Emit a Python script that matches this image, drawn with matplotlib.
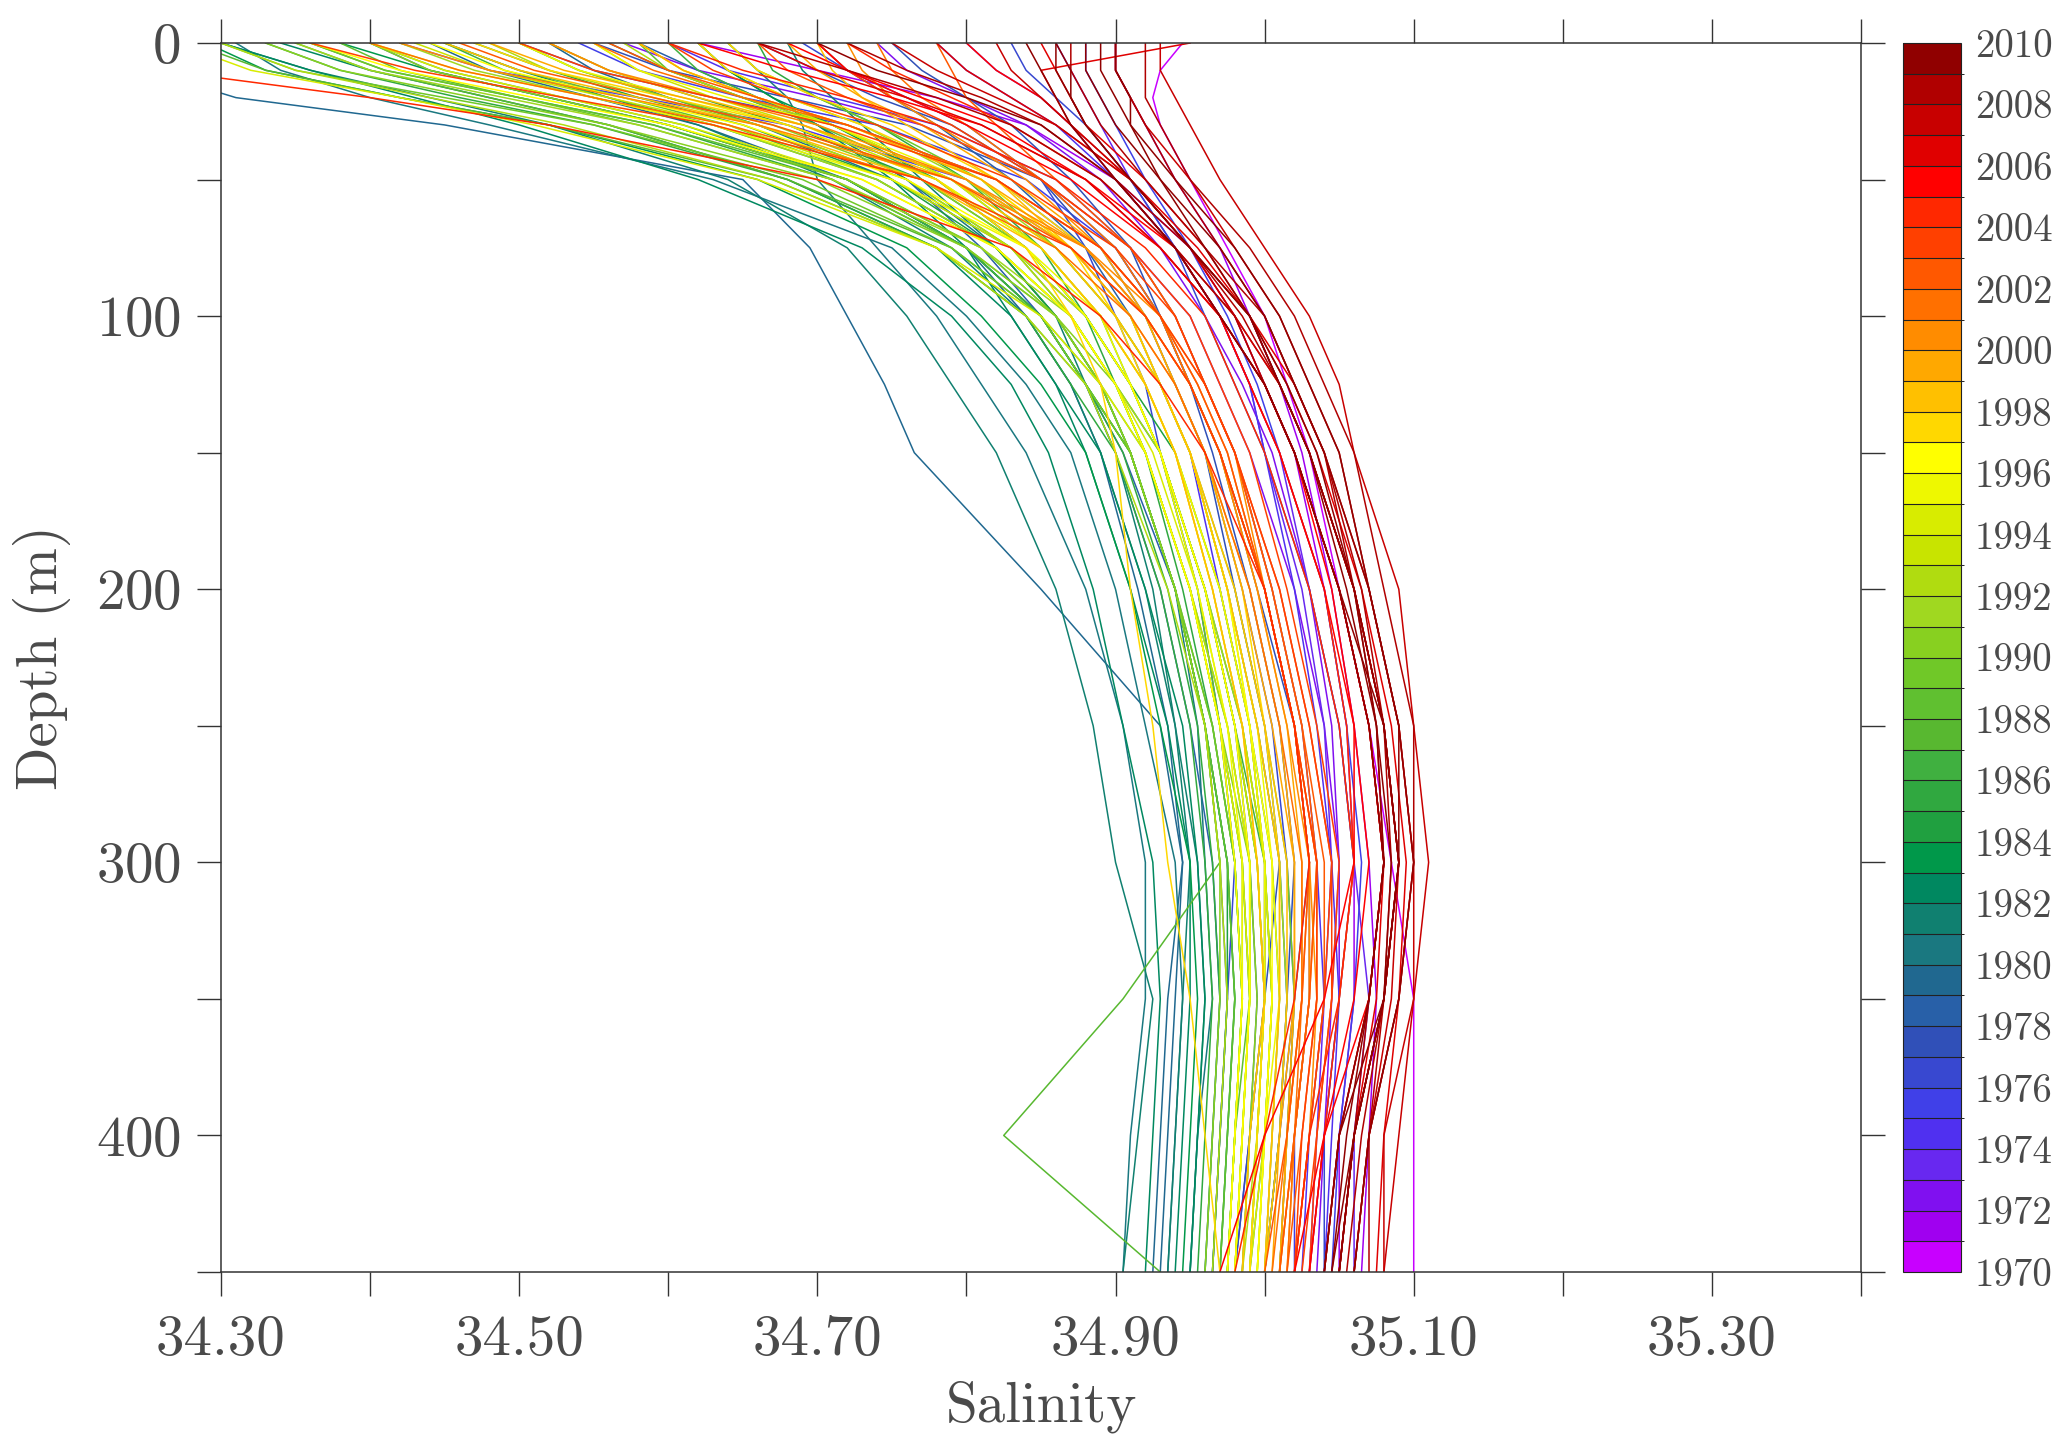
import matplotlib
matplotlib.use("Agg")
import matplotlib.pyplot as plt
import numpy as np
from matplotlib.colors import ListedColormap, BoundaryNorm
from matplotlib.cm import ScalarMappable
from matplotlib.ticker import MultipleLocator, FixedLocator

plt.rcParams['font.family'] = ['cmr10', 'DejaVu Sans']
plt.rcParams['axes.formatter.use_mathtext'] = True

# ---------------- data ----------------
depths = [0, 10, 20, 30, 50, 75, 100, 125, 150, 200, 250, 300, 350, 400, 450]

years = [
    1970, 1971, 1972, 1973, 1974, 1975, 1976, 1977, 1977,
    1978, 1978, 1979, 1979, 1980, 1980, 1981, 1981, 1982, 1982, 1983, 1983,
    1984, 1985, 1985, 1986, 1986, 1987, 1987, 1988, 1988, 1989, 1990, 1990,
    1991, 1991, 1992, 1992, 1993, 1994, 1994,
    1995, 1995, 1996, 1996, 1997, 1997, 1998, 1998,
    1999, 1999, 2000, 2000, 2001, 2001, 2002, 2002, 2003, 2003, 2003,
    2004, 2004, 2005, 2005, 2005, 2005, 2006, 2006, 2007, 2007, 2007,
    2008, 2008, 2008, 2009, 2009, 2009, 2010, 2010,
]

salinity = [
    [34.945, 34.93, 34.925, 34.93, 34.95, 34.975, 35.00, 35.015, 35.03, 35.05, 35.07, 35.085, 35.10, 35.10, 35.10],
    [34.62, 34.70, 34.78, 34.84, 34.90, 34.95, 34.98, 35.00, 35.02, 35.04, 35.055, 35.06, 35.06, 35.05, 35.05],
    [34.57, 34.62, 34.70, 34.77, 34.85, 34.91, 34.95, 34.97, 34.99, 35.02, 35.04, 35.05, 35.05, 35.04, 35.03],
    [34.80, 34.82, 34.85, 34.87, 34.90, 34.94, 34.97, 34.99, 35.01, 35.03, 35.05, 35.06, 35.07, 35.06, 35.06],
    [34.42, 34.48, 34.58, 34.68, 34.80, 34.87, 34.91, 34.93, 34.95, 34.97, 34.99, 35.00, 35.00, 34.99, 34.98],
    [34.54, 34.58, 34.65, 34.74, 34.84, 34.90, 34.93, 34.95, 34.97, 35.00, 35.02, 35.03, 35.03, 35.02, 35.02],
    [34.83, 34.84, 34.86, 34.88, 34.91, 34.94, 34.96, 34.98, 35.00, 35.03, 35.05, 35.06, 35.05, 35.04, 35.04],
    [34.66, 34.70, 34.74, 34.79, 34.85, 34.89, 34.92, 34.94, 34.96, 34.98, 35.00, 35.01, 35.00, 34.99, 34.98],
    [34.75, 34.77, 34.80, 34.83, 34.87, 34.91, 34.93, 34.95, 34.97, 34.995, 35.02, 35.03, 35.02, 35.01, 35.00],
    [34.58, 34.62, 34.66, 34.70, 34.76, 34.81, 34.85, 34.88, 34.90, 34.93, 34.95, 34.965, 34.97, 34.965, 34.96],
    [34.70, 34.72, 34.75, 34.78, 34.83, 34.88, 34.91, 34.93, 34.95, 34.975, 34.995, 35.01, 35.015, 35.01, 35.00],
    [34.20, 34.25, 34.31, 34.45, 34.65, 34.695, 34.72, 34.745, 34.765, 34.85, 34.93, 34.945, 34.935, 34.93, 34.925],
    [34.52, 34.55, 34.60, 34.66, 34.75, 34.83, 34.88, 34.91, 34.93, 34.96, 34.98, 34.99, 34.995, 34.99, 34.985],
    [34.31, 34.34, 34.40, 34.48, 34.63, 34.75, 34.80, 34.84, 34.87, 34.90, 34.92, 34.94, 34.945, 34.94, 34.935],
    [34.64, 34.66, 34.68, 34.69, 34.70, 34.74, 34.78, 34.81, 34.84, 34.88, 34.905, 34.92, 34.92, 34.91, 34.905],
    [34.30, 34.36, 34.44, 34.52, 34.64, 34.72, 34.76, 34.79, 34.82, 34.86, 34.885, 34.90, 34.925, 34.915, 34.905],
    [34.45, 34.50, 34.56, 34.62, 34.71, 34.79, 34.84, 34.87, 34.89, 34.92, 34.94, 34.955, 34.96, 34.955, 34.95],
    [34.30, 34.36, 34.43, 34.50, 34.62, 34.73, 34.79, 34.83, 34.855, 34.885, 34.905, 34.925, 34.93, 34.925, 34.92],
    [34.62, 34.64, 34.67, 34.70, 34.75, 34.80, 34.83, 34.86, 34.88, 34.91, 34.935, 34.95, 34.95, 34.945, 34.94],
    [34.29, 34.33, 34.42, 34.52, 34.66, 34.76, 34.81, 34.85, 34.88, 34.91, 34.93, 34.95, 34.955, 34.95, 34.945],
    [34.38, 34.44, 34.52, 34.60, 34.72, 34.80, 34.85, 34.88, 34.91, 34.94, 34.96, 34.975, 34.98, 34.975, 34.97],
    [34.47, 34.52, 34.58, 34.65, 34.75, 34.82, 34.86, 34.89, 34.91, 34.94, 34.96, 34.975, 34.975, 34.97, 34.965],
    [34.33, 34.38, 34.46, 34.55, 34.68, 34.78, 34.84, 34.87, 34.90, 34.93, 34.95, 34.96, 34.965, 34.96, 34.955],
    [34.66, 34.67, 34.70, 34.74, 34.80, 34.85, 34.88, 34.90, 34.92, 34.945, 34.965, 34.98, 34.985, 34.98, 34.975],
    [34.40, 34.45, 34.53, 34.61, 34.72, 34.80, 34.85, 34.88, 34.91, 34.94, 34.96, 34.975, 34.98, 34.975, 34.97],
    [34.60, 34.62, 34.66, 34.71, 34.79, 34.85, 34.89, 34.91, 34.93, 34.96, 34.98, 35.00, 35.005, 35.00, 34.995],
    [34.35, 34.40, 34.48, 34.56, 34.68, 34.79, 34.85, 34.89, 34.91, 34.94, 34.96, 34.97, 34.905, 34.825, 34.93],
    [34.28, 34.33, 34.42, 34.52, 34.67, 34.78, 34.84, 34.88, 34.91, 34.94, 34.965, 34.98, 34.985, 34.98, 34.975],
    [34.45, 34.50, 34.57, 34.64, 34.74, 34.82, 34.87, 34.90, 34.92, 34.95, 34.97, 34.985, 34.99, 34.98, 34.975],
    [34.38, 34.42, 34.50, 34.59, 34.72, 34.81, 34.86, 34.89, 34.91, 34.94, 34.96, 34.975, 34.98, 34.975, 34.97],
    [34.36, 34.41, 34.50, 34.58, 34.71, 34.80, 34.86, 34.89, 34.92, 34.95, 34.975, 34.99, 34.99, 34.985, 34.98],
    [34.50, 34.54, 34.60, 34.67, 34.77, 34.84, 34.88, 34.91, 34.93, 34.96, 34.98, 34.995, 35.00, 34.995, 34.99],
    [34.33, 34.38, 34.47, 34.56, 34.70, 34.80, 34.86, 34.90, 34.92, 34.95, 34.97, 34.99, 34.995, 34.99, 34.985],
    [34.42, 34.47, 34.55, 34.63, 34.74, 34.82, 34.87, 34.90, 34.92, 34.95, 34.97, 34.985, 34.985, 34.98, 34.975],
    [34.62, 34.64, 34.68, 34.73, 34.80, 34.86, 34.90, 34.93, 34.95, 34.975, 34.995, 35.01, 35.015, 35.01, 35.00],
    [34.30, 34.35, 34.44, 34.53, 34.67, 34.78, 34.84, 34.88, 34.90, 34.935, 34.96, 34.97, 34.975, 34.97, 34.965],
    [34.48, 34.52, 34.59, 34.66, 34.76, 34.83, 34.87, 34.90, 34.92, 34.95, 34.975, 34.99, 34.99, 34.985, 34.98],
    [34.55, 34.58, 34.63, 34.69, 34.78, 34.85, 34.89, 34.92, 34.94, 34.965, 34.985, 35.00, 35.005, 35.00, 34.995],
    [34.27, 34.32, 34.42, 34.51, 34.66, 34.78, 34.85, 34.89, 34.92, 34.95, 34.97, 34.985, 34.99, 34.985, 34.98],
    [34.40, 34.45, 34.53, 34.61, 34.73, 34.82, 34.87, 34.90, 34.925, 34.955, 34.975, 34.99, 34.99, 34.985, 34.98],
    [34.40, 34.46, 34.55, 34.63, 34.75, 34.84, 34.89, 34.92, 34.94, 34.97, 34.99, 35.00, 35.00, 34.995, 34.99],
    [34.50, 34.54, 34.61, 34.68, 34.78, 34.85, 34.89, 34.91, 34.93, 34.955, 34.975, 34.985, 34.985, 34.98, 34.975],
    [34.44, 34.49, 34.57, 34.65, 34.76, 34.84, 34.88, 34.91, 34.93, 34.96, 34.98, 34.99, 34.99, 34.985, 34.98],
    [34.58, 34.61, 34.66, 34.72, 34.81, 34.87, 34.91, 34.93, 34.95, 34.975, 34.99, 35.005, 35.005, 35.00, 34.995],
    [34.47, 34.52, 34.60, 34.68, 34.78, 34.84, 34.87, 34.89, 34.90, 34.91, 34.925, 34.935, 34.95, 34.96, 34.97],
    [34.62, 34.64, 34.68, 34.73, 34.81, 34.87, 34.90, 34.92, 34.94, 34.965, 34.985, 34.995, 35.00, 34.995, 34.99],
    [34.52, 34.56, 34.62, 34.69, 34.79, 34.86, 34.90, 34.93, 34.95, 34.975, 34.995, 35.01, 35.01, 35.005, 35.00],
    [34.70, 34.71, 34.73, 34.76, 34.82, 34.87, 34.91, 34.93, 34.95, 34.98, 35.00, 35.015, 35.015, 35.01, 35.00],
    [34.48, 34.53, 34.61, 34.69, 34.80, 34.87, 34.91, 34.94, 34.96, 34.985, 35.005, 35.02, 35.02, 35.015, 35.01],
    [34.58, 34.61, 34.66, 34.72, 34.81, 34.88, 34.92, 34.94, 34.96, 34.99, 35.01, 35.02, 35.02, 35.01, 35.005],
    [34.42, 34.48, 34.57, 34.66, 34.79, 34.88, 34.93, 34.96, 34.98, 35.00, 35.02, 35.03, 35.035, 35.03, 35.02],
    [34.72, 34.73, 34.75, 34.78, 34.84, 34.89, 34.93, 34.95, 34.97, 34.995, 35.015, 35.03, 35.03, 35.02, 35.01],
    [34.55, 34.59, 34.65, 34.72, 34.82, 34.89, 34.93, 34.95, 34.97, 35.00, 35.02, 35.035, 35.03, 35.02, 35.01],
    [34.40, 34.46, 34.55, 34.64, 34.77, 34.86, 34.91, 34.94, 34.96, 34.99, 35.01, 35.025, 35.025, 35.02, 35.015],
    [34.66, 34.68, 34.72, 34.77, 34.85, 34.91, 34.94, 34.96, 34.98, 35.005, 35.025, 35.04, 35.04, 35.03, 35.02],
    [34.78, 34.79, 34.80, 34.82, 34.86, 34.91, 34.94, 34.96, 34.98, 35.005, 35.025, 35.035, 35.035, 35.025, 35.015],
    [34.60, 34.63, 34.68, 34.74, 34.83, 34.90, 34.94, 34.96, 34.98, 35.01, 35.03, 35.045, 35.04, 35.03, 35.02],
    [34.50, 34.55, 34.63, 34.71, 34.82, 34.89, 34.93, 34.96, 34.98, 35.01, 35.03, 35.045, 35.045, 35.035, 35.025],
    [34.36, 34.43, 34.53, 34.63, 34.77, 34.87, 34.92, 34.95, 34.97, 35.00, 35.02, 35.035, 35.035, 35.025, 35.02],
    [34.60, 34.65, 34.72, 34.78, 34.86, 34.92, 34.96, 34.98, 35.00, 35.03, 35.05, 35.06, 35.05, 35.03, 35.02],
    [34.20, 34.26, 34.40, 34.52, 34.70, 34.83, 34.89, 34.93, 34.96, 35.00, 35.02, 35.03, 35.02, 35.00, 34.98],
    [34.80, 34.82, 34.85, 34.87, 34.91, 34.95, 34.98, 35.00, 35.02, 35.05, 35.07, 35.08, 35.07, 35.05, 35.04],
    [34.62, 34.68, 34.75, 34.81, 34.88, 34.93, 34.97, 34.99, 35.01, 35.04, 35.06, 35.07, 35.06, 35.04, 35.03],
    [34.70, 34.72, 34.76, 34.80, 34.87, 34.93, 34.97, 35.00, 35.02, 35.05, 35.07, 35.08, 35.07, 35.04, 35.02],
    [34.68, 34.72, 34.77, 34.82, 34.88, 34.94, 34.97, 35.00, 35.02, 35.045, 35.06, 35.06, 35.04, 35.00, 34.97],
    [34.85, 34.86, 34.87, 34.88, 34.92, 34.96, 34.99, 35.02, 35.04, 35.07, 35.09, 35.10, 35.09, 35.07, 35.06],
    [34.95, 34.85, 34.86, 34.87, 34.90, 34.94, 34.98, 35.01, 35.03, 35.06, 35.08, 35.09, 35.08, 35.06, 35.05],
    [34.90, 34.90, 34.91, 34.92, 34.95, 34.98, 35.01, 35.03, 35.05, 35.07, 35.09, 35.10, 35.10, 35.08, 35.08],
    [34.75, 34.78, 34.82, 34.86, 34.91, 34.95, 34.98, 35.01, 35.03, 35.06, 35.08, 35.09, 35.08, 35.06, 35.05],
    [34.93, 34.93, 34.94, 34.95, 34.97, 35.00, 35.03, 35.05, 35.06, 35.09, 35.10, 35.11, 35.10, 35.09, 35.08],
    [34.92, 34.92, 34.92, 34.93, 34.95, 34.99, 35.02, 35.04, 35.06, 35.08, 35.10, 35.10, 35.09, 35.07, 35.06],
    [34.87, 34.87, 34.88, 34.89, 34.92, 34.96, 35.00, 35.02, 35.04, 35.06, 35.08, 35.09, 35.08, 35.07, 35.07],
    [34.66, 34.72, 34.78, 34.83, 34.89, 34.94, 34.98, 35.00, 35.02, 35.05, 35.07, 35.08, 35.07, 35.06, 35.05],
    [34.89, 34.89, 34.90, 34.91, 34.94, 34.98, 35.01, 35.03, 35.05, 35.07, 35.09, 35.10, 35.09, 35.07, 35.06],
    [34.84, 34.85, 34.86, 34.87, 34.90, 34.94, 34.97, 35.00, 35.02, 35.05, 35.07, 35.08, 35.07, 35.05, 35.04],
    [34.70, 34.74, 34.80, 34.85, 34.90, 34.94, 34.97, 35.00, 35.02, 35.05, 35.08, 35.09, 35.08, 35.06, 35.05],
    [34.88, 34.88, 34.89, 34.90, 34.93, 34.97, 35.00, 35.02, 35.04, 35.07, 35.09, 35.09, 35.08, 35.06, 35.05],
    [34.86, 34.87, 34.87, 34.88, 34.91, 34.95, 34.99, 35.01, 35.03, 35.06, 35.08, 35.09, 35.08, 35.05, 35.04],
]

years_extra = [
    1971, 1972, 1973, 1974, 1974, 1975, 1976, 1976, 1977, 1978,
    1979, 1980, 1981, 1982, 1983,
    1984, 1985, 1986, 1987, 1988, 1989, 1989, 1990, 1991, 1992, 1993,
    1994, 1995, 1996, 1997, 1998,
    1999, 2000, 2001, 2002, 2002, 2003,
    2004, 2006, 2006, 2007, 2008, 2008, 2009, 2010,
]

salinity_extra = [
    [34.90, 34.90, 34.91, 34.92, 34.94, 34.97, 34.99, 35.01, 35.025, 35.045, 35.06, 35.07, 35.075, 35.07, 35.065],
    [34.74, 34.76, 34.80, 34.84, 34.89, 34.93, 34.96, 34.985, 35.005, 35.03, 35.045, 35.05, 35.045, 35.04, 35.035],
    [34.86, 34.87, 34.88, 34.89, 34.91, 34.94, 34.97, 34.99, 35.00, 35.025, 35.04, 35.045, 35.04, 35.035, 35.03],
    [34.60, 34.64, 34.71, 34.78, 34.86, 34.91, 34.94, 34.96, 34.98, 35.005, 35.025, 35.035, 35.04, 35.03, 35.025],
    [34.78, 34.80, 34.83, 34.86, 34.90, 34.94, 34.97, 34.99, 35.00, 35.02, 35.035, 35.045, 35.05, 35.045, 35.04],
    [34.88, 34.88, 34.89, 34.90, 34.92, 34.95, 34.975, 34.995, 35.01, 35.04, 35.055, 35.065, 35.06, 35.05, 35.045],
    [34.50, 34.55, 34.63, 34.72, 34.82, 34.88, 34.92, 34.94, 34.96, 34.985, 35.005, 35.015, 35.02, 35.015, 35.01],
    [34.69, 34.72, 34.76, 34.80, 34.85, 34.88, 34.90, 34.92, 34.93, 34.955, 34.97, 34.98, 34.975, 34.97, 34.965],
    [34.55, 34.60, 34.68, 34.76, 34.85, 34.90, 34.93, 34.95, 34.965, 34.99, 35.01, 35.02, 35.015, 35.01, 35.00],
    [34.40, 34.44, 34.52, 34.60, 34.72, 34.80, 34.85, 34.88, 34.905, 34.94, 34.96, 34.97, 34.975, 34.97, 34.965],
    [34.44, 34.48, 34.55, 34.62, 34.72, 34.80, 34.84, 34.87, 34.89, 34.915, 34.935, 34.945, 34.94, 34.935, 34.93],
    [34.56, 34.60, 34.65, 34.70, 34.76, 34.82, 34.86, 34.89, 34.91, 34.94, 34.955, 34.96, 34.965, 34.955, 34.95],
    [34.68, 34.69, 34.71, 34.73, 34.77, 34.82, 34.86, 34.88, 34.90, 34.925, 34.94, 34.95, 34.945, 34.94, 34.935],
    [34.34, 34.40, 34.48, 34.56, 34.68, 34.78, 34.83, 34.86, 34.89, 34.92, 34.945, 34.955, 34.96, 34.955, 34.95],
    [34.62, 34.64, 34.67, 34.71, 34.78, 34.84, 34.88, 34.91, 34.93, 34.96, 34.98, 34.995, 35.00, 34.995, 34.99],
    [34.52, 34.56, 34.62, 34.68, 34.77, 34.84, 34.88, 34.91, 34.94, 34.97, 34.99, 35.005, 35.01, 35.005, 35.00],
    [34.36, 34.41, 34.50, 34.59, 34.71, 34.80, 34.85, 34.88, 34.905, 34.935, 34.955, 34.965, 34.97, 34.965, 34.96],
    [34.45, 34.49, 34.56, 34.63, 34.74, 34.82, 34.87, 34.90, 34.93, 34.96, 34.985, 35.00, 35.005, 35.00, 34.99],
    [34.50, 34.54, 34.60, 34.66, 34.76, 34.83, 34.87, 34.90, 34.92, 34.95, 34.97, 34.985, 34.99, 34.985, 34.98],
    [34.58, 34.60, 34.65, 34.70, 34.78, 34.84, 34.88, 34.91, 34.93, 34.955, 34.97, 34.98, 34.985, 34.98, 34.975],
    [34.64, 34.66, 34.70, 34.74, 34.81, 34.86, 34.90, 34.93, 34.95, 34.98, 35.00, 35.015, 35.02, 35.015, 35.01],
    [34.30, 34.35, 34.45, 34.55, 34.69, 34.79, 34.85, 34.88, 34.91, 34.94, 34.965, 34.98, 34.985, 34.98, 34.975],
    [34.40, 34.44, 34.52, 34.60, 34.72, 34.81, 34.86, 34.89, 34.91, 34.94, 34.96, 34.97, 34.97, 34.965, 34.96],
    [34.35, 34.40, 34.49, 34.58, 34.71, 34.81, 34.87, 34.90, 34.93, 34.96, 34.985, 35.00, 35.00, 34.995, 34.99],
    [34.57, 34.60, 34.65, 34.71, 34.79, 34.86, 34.90, 34.93, 34.95, 34.975, 34.99, 35.00, 35.00, 34.995, 34.985],
    [34.43, 34.48, 34.56, 34.64, 34.75, 34.83, 34.88, 34.91, 34.93, 34.96, 34.98, 34.995, 35.00, 34.99, 34.985],
    [34.58, 34.61, 34.66, 34.71, 34.79, 34.85, 34.89, 34.92, 34.94, 34.97, 34.99, 35.00, 35.005, 35.00, 34.99],
    [34.55, 34.58, 34.64, 34.71, 34.80, 34.87, 34.91, 34.93, 34.95, 34.975, 34.995, 35.005, 35.01, 35.00, 34.995],
    [34.36, 34.42, 34.51, 34.60, 34.73, 34.82, 34.87, 34.90, 34.92, 34.95, 34.97, 34.98, 34.985, 34.98, 34.975],
    [34.64, 34.66, 34.70, 34.75, 34.82, 34.88, 34.92, 34.94, 34.96, 34.985, 35.00, 35.01, 35.01, 35.005, 35.00],
    [34.45, 34.50, 34.58, 34.66, 34.77, 34.85, 34.89, 34.92, 34.94, 34.965, 34.985, 34.995, 35.00, 34.99, 34.985],
    [34.68, 34.70, 34.73, 34.77, 34.83, 34.89, 34.92, 34.95, 34.97, 34.995, 35.015, 35.025, 35.025, 35.015, 35.01],
    [34.52, 34.56, 34.63, 34.70, 34.80, 34.88, 34.92, 34.95, 34.97, 35.00, 35.02, 35.03, 35.03, 35.02, 35.015],
    [34.74, 34.75, 34.77, 34.80, 34.85, 34.90, 34.93, 34.955, 34.975, 35.00, 35.02, 35.03, 35.025, 35.015, 35.005],
    [34.46, 34.51, 34.59, 34.67, 34.79, 34.87, 34.92, 34.95, 34.97, 35.00, 35.02, 35.035, 35.03, 35.02, 35.01],
    [34.56, 34.60, 34.66, 34.72, 34.82, 34.89, 34.93, 34.955, 34.975, 35.00, 35.02, 35.03, 35.025, 35.015, 35.00],
    [34.70, 34.72, 34.75, 34.79, 34.85, 34.91, 34.95, 34.97, 34.99, 35.015, 35.035, 35.05, 35.045, 35.035, 35.03],
    [34.72, 34.75, 34.79, 34.83, 34.89, 34.94, 34.97, 34.99, 35.01, 35.04, 35.055, 35.06, 35.05, 35.04, 35.03],
    [34.66, 34.70, 34.76, 34.81, 34.88, 34.93, 34.97, 35.00, 35.02, 35.05, 35.07, 35.08, 35.075, 35.06, 35.05],
    [34.78, 34.80, 34.83, 34.86, 34.91, 34.955, 34.99, 35.015, 35.035, 35.065, 35.085, 35.095, 35.09, 35.08, 35.075],
    [34.82, 34.83, 34.85, 34.87, 34.91, 34.95, 34.99, 35.01, 35.03, 35.06, 35.08, 35.09, 35.085, 35.07, 35.06],
    [34.90, 34.90, 34.91, 34.92, 34.94, 34.97, 35.00, 35.02, 35.04, 35.065, 35.08, 35.085, 35.08, 35.065, 35.055],
    [34.72, 34.76, 34.81, 34.85, 34.90, 34.95, 34.985, 35.01, 35.03, 35.06, 35.075, 35.08, 35.07, 35.05, 35.04],
    [34.86, 34.86, 34.87, 34.88, 34.91, 34.95, 34.99, 35.01, 35.03, 35.055, 35.075, 35.085, 35.08, 35.06, 35.045],
    [34.90, 34.90, 34.91, 34.91, 34.93, 34.96, 34.99, 35.015, 35.035, 35.06, 35.075, 35.08, 35.07, 35.055, 35.045],
]

box_colors = [
    '#C800FF', '#A000F0', '#8010F0', '#6828F0', '#5030F0', '#4040E8', '#3848D0', '#3050B8',
    '#2860A8', '#206890', '#1A7880', '#108070', '#008860', '#00984A', '#20A040', '#30A840',
    '#40B040', '#58B830', '#60C030', '#70C828', '#88D020', '#A0D820', '#B0DC10', '#C8E400',
    '#D8EC00', '#EEF800', '#FFFF00', '#FFD800', '#FFC000', '#FFA800', '#FF8C00', '#FF7000',
    '#FF5800', '#FF4000', '#FF2800', '#FF0000', '#E00000', '#C80000', '#B00000', '#900000',
]
year_bounds = list(range(1970, 2011))
cbar_ticks = list(range(1970, 2011, 2))
x_labels = [34.30, 34.50, 34.70, 34.90, 35.10, 35.30]

# ---------------- figure ----------------
W, H = 2067, 1448
fig = plt.figure(figsize=(W / 100, H / 100), dpi=100)
ax = fig.add_axes([221 / W, 1 - 1272 / H, (1861 - 221) / W, (1272 - 43) / H])
cax = fig.add_axes([1903 / W, 1 - 1272 / H, (1961 - 1903) / W, (1272 - 43) / H])

cmap = ListedColormap(box_colors)
norm = BoundaryNorm(year_bounds, cmap.N)

all_years = years + years_extra
all_prof = salinity + salinity_extra
order = sorted(range(len(all_years)), key=lambda i: all_years[i])

text_color = '#4a4a4a'
for i in order:
    yr = all_years[i]
    c = cmap(norm(min(yr, 2009.5)))
    ax.plot(all_prof[i], depths, color=c, lw=1.1)

ax.set_xlim(34.3, 35.4)
ax.set_ylim(450, 0)

ax.xaxis.set_major_locator(FixedLocator(x_labels))
ax.xaxis.set_minor_locator(MultipleLocator(0.1))
ax.set_xticklabels([f"{v:.2f}" for v in x_labels])
ax.yaxis.set_major_locator(MultipleLocator(100))
ax.yaxis.set_minor_locator(MultipleLocator(50))

for which in ('major', 'minor'):
    ax.tick_params(axis='both', which=which, direction='out', length=17, width=1.0,
                   color='#333333', top=True, right=True)
ax.tick_params(axis='both', which='major', labelsize=41, labelcolor=text_color)
ax.tick_params(axis='x', which='major', pad=14)
ax.tick_params(axis='y', which='major', pad=12)
ax.tick_params(labeltop=False, labelright=False)
for s in ax.spines.values():
    s.set_linewidth(1.1)
    s.set_color('#333333')

ax.set_xlabel('Salinity', fontsize=41, color=text_color, labelpad=10)
ax.set_ylabel('Depth (m)', fontsize=41, color=text_color, labelpad=18)

sm = ScalarMappable(norm=norm, cmap=cmap)
cb = fig.colorbar(sm, cax=cax, ticks=cbar_ticks, drawedges=True)
cb.dividers.set_color('#222222')
cb.dividers.set_linewidth(0.8)
cb.outline.set_linewidth(0.8)
cb.outline.set_edgecolor('#222222')
cax.tick_params(length=0, pad=10, labelsize=28, labelcolor=text_color)
cax.set_yticklabels([str(t) for t in cbar_ticks])

fig.savefig('out.png', dpi=100)
